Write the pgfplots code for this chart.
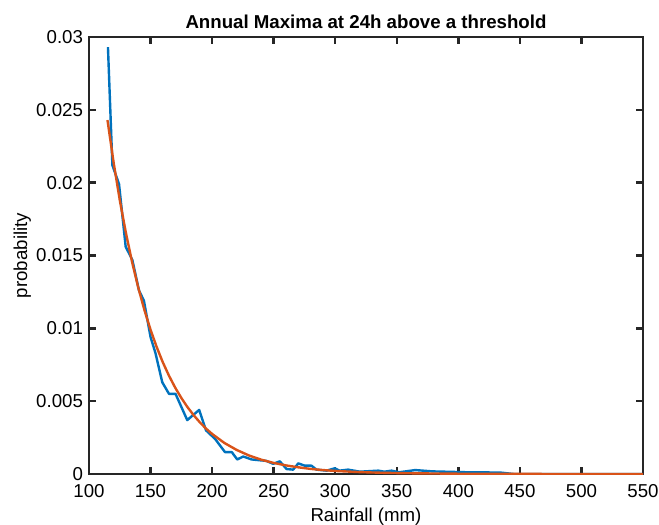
\documentclass[border=0pt]{standalone}
\usepackage{fontspec}
\setmainfont{Liberation Sans}
\usepackage{pgfplots}
\pgfplotsset{compat=1.18}
\definecolor{mblue}{RGB}{0,114,189}
\definecolor{morange}{RGB}{217,83,25}
\definecolor{maxis}{RGB}{38,38,38}
\begin{document}
\begin{tikzpicture}
\begin{axis}[
    scale only axis,
    width=415.5pt, height=327.75pt,
    xmin=100, xmax=550, ymin=0, ymax=0.03,
    xtick={100,150,...,550},
    ytick={0,0.005,0.01,0.015,0.02,0.025,0.03},
    yticklabels={0,0.005,0.01,0.015,0.02,0.025,0.03},
    scaled y ticks=false,
    /pgf/number format/assume math mode=true,
    tick label style={font=\fontsize{14}{16}\selectfont, text=black},
    label style={font=\fontsize{14}{16}\selectfont},
    title style={font=\bfseries\fontsize{14}{16}\selectfont, yshift=-3pt},
    title={Annual Maxima at 24h above a threshold},
    xlabel={Rainfall (mm)}, ylabel={probability},
    xlabel style={yshift=-1.5pt},
    ylabel style={yshift=-3pt},
    yticklabel style={xshift=-1pt},
    xticklabel style={yshift=-4pt},
    axis line style={maxis, line width=1.9pt},
    tick style={maxis, line width=1.9pt},
    tick align=inside,
    major tick length=5pt,
    xtick pos=both, ytick pos=both,
    clip=true,
]
\addplot[mblue, line width=1.8pt, line join=round] coordinates {
(115.4,0.0293)(119,0.0212)(124.4,0.0199)(129.8,0.0156)(135.2,0.0147)
(140.6,0.0126)(144.6,0.0119)(150,0.0094)(154,0.0083)(159.5,0.0063)
(165,0.0055)(170.3,0.0055)(179.8,0.0037)(189.5,0.0044)(195,0.0030)
(202.5,0.0024)(210.5,0.0015)(216,0.0015)(220.4,0.0010)(225.3,0.0012)
(232,0.0010)(244,0.0009)(249.6,0.0007)(255,0.00087)(260.5,0.00034)
(265.8,0.0003)(270,0.00073)(275.3,0.00057)(280.7,0.00057)(284.8,0.0003)
(293,0.00023)(299.6,0.00039)(303.6,0.00023)(310.4,0.0003)(320,0.00016)
(335,0.00023)(340,0.00016)(345.7,0.00023)(352,0.00012)(365,0.00027)
(379,0.00018)(407,0.00012)(434,0.0001)(445,0)(550,0)
};
\addplot[morange, line width=1.8pt, line join=round] coordinates {
(115,0.02430)(120,0.02138)(125,0.01880)(130,0.01654)(135,0.01455)
(140,0.01280)(145,0.01126)(150,0.00990)(155,0.00871)(160,0.00766)
(165,0.00674)(170,0.00593)(175,0.00522)(180,0.00459)(185,0.00404)
(190,0.00355)(195,0.00312)(200,0.00275)(210,0.00213)(220,0.00165)
(230,0.00127)(240,0.00098)(250,0.00076)(260,0.00059)(270,0.00046)
(280,0.00035)(290,0.00027)(300,0.00021)(320,0.00013)(340,0.00008)
(360,0.00005)(400,0.00002)(450,0.000005)(500,0.000001)(550,0)
};
\end{axis}
\pgfresetboundingbox
\path ([shift={(-66.75pt,-37.5pt)}]current axis.south west) rectangle ([shift={(12pt,27.75pt)}]current axis.north east);
\end{tikzpicture}
\end{document}
